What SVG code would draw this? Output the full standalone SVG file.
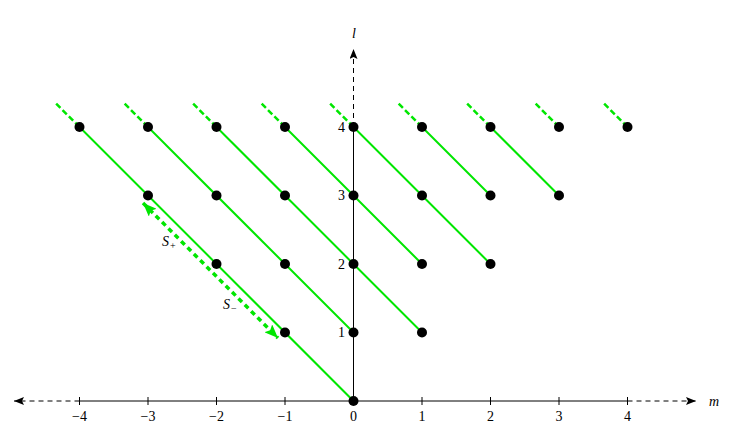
<svg xmlns="http://www.w3.org/2000/svg" width="739" height="437" viewBox="0 0 739 437">
<defs>
<style>
.ax{stroke:#000;stroke-width:1;fill:none}
.axd{stroke:#000;stroke-width:1;fill:none;stroke-dasharray:5,4}
.g{stroke:#00e600;stroke-width:2;fill:none}
.gd{stroke:#00e600;stroke-width:2.5;fill:none;stroke-dasharray:6,3}
.sd{stroke:#00e600;stroke-width:3.5;fill:none;stroke-dasharray:5,4}
.t{font-family:"Liberation Serif","Times New Roman",serif;font-size:14px;fill:#000}
.ti{font-family:"Liberation Serif","Times New Roman",serif;font-size:14px;font-style:italic;fill:#000}
.sub{font-family:"Liberation Serif","Times New Roman",serif;font-size:10px;fill:#000}
.d{fill:#000}
</style>
<marker id="ah" viewBox="0 0 10 8" refX="10" refY="4" markerWidth="14" markerHeight="8" markerUnits="userSpaceOnUse" orient="auto">
<path d="M0,0 L10,4 L0,8 L2,4 Z" fill="#000"/>
</marker>
<marker id="gh" viewBox="0 0 10 8" refX="10" refY="4" markerWidth="14" markerHeight="11" markerUnits="userSpaceOnUse" orient="auto-start-reverse">
<path d="M0,0 L10,4 L0,8 L2,4 Z" fill="#00e600"/>
</marker>
</defs>
<g id="axes">
<line class="ax" x1="79.5" y1="401" x2="627.5" y2="401"/>
<line class="axd" x1="79.5" y1="401" x2="14" y2="401" marker-end="url(#ah)"/>
<line class="axd" x1="627.5" y1="401" x2="696" y2="401" marker-end="url(#ah)"/>
<line class="ax" x1="353.5" y1="401" x2="353.5" y2="127"/>
<line class="axd" x1="353.5" y1="127" x2="353.5" y2="49" marker-end="url(#ah)"/>
<path class="ax" d="M79.5,397v8M148,397v8M216.5,397v8M285,397v8M422,397v8M490.5,397v8M559,397v8M627.5,397v8"/>
<text class="ti" x="709" y="406">m</text>
<text class="ti" x="352" y="38">l</text>
<g text-anchor="middle">
<text class="t" x="79.5" y="421">−4</text>
<text class="t" x="148" y="421">−3</text>
<text class="t" x="216.5" y="421">−2</text>
<text class="t" x="285" y="421">−1</text>
<text class="t" x="353.5" y="421">0</text>
<text class="t" x="422" y="421">1</text>
<text class="t" x="490.5" y="421">2</text>
<text class="t" x="559" y="421">3</text>
<text class="t" x="627.5" y="421">4</text>
</g>
<g text-anchor="end">
<text class="t" x="345" y="337">1</text>
<text class="t" x="345" y="269">2</text>
<text class="t" x="345" y="200">3</text>
<text class="t" x="345" y="132">4</text>
</g>
</g>
<g id="connectors">
<line class="g" x1="79.5" y1="127" x2="353.5" y2="401"/>
<line class="g" x1="148" y1="127" x2="353.5" y2="332.5"/>
<line class="g" x1="216.5" y1="127" x2="422" y2="332.5"/>
<line class="g" x1="285" y1="127" x2="422" y2="264"/>
<line class="g" x1="353.5" y1="127" x2="490.5" y2="264"/>
<line class="g" x1="422" y1="127" x2="490.5" y2="195.5"/>
<line class="g" x1="490.5" y1="127" x2="559" y2="195.5"/>
<line class="gd" x1="79.5" y1="127" x2="55.5" y2="103"/>
<line class="gd" x1="148" y1="127" x2="124" y2="103"/>
<line class="gd" x1="216.5" y1="127" x2="192.5" y2="103"/>
<line class="gd" x1="285" y1="127" x2="261" y2="103"/>
<line class="gd" x1="353.5" y1="127" x2="329.5" y2="103"/>
<line class="gd" x1="422" y1="127" x2="398" y2="103"/>
<line class="gd" x1="490.5" y1="127" x2="466.5" y2="103"/>
<line class="gd" x1="559" y1="127" x2="535" y2="103"/>
<line class="gd" x1="627.5" y1="127" x2="603.5" y2="103"/>
<line class="sd" x1="143" y1="203" x2="278" y2="338" marker-start="url(#gh)" marker-end="url(#gh)"/>
<text class="ti" x="162" y="246">S</text><text class="sub" x="170" y="249">+</text>
<text class="ti" x="223" y="309">S</text><text class="sub" x="231" y="312">−</text>
</g>
<g id="nodes">
<circle class="d" cx="353.5" cy="401" r="5"/>
<circle class="d" cx="285" cy="332.5" r="5"/>
<circle class="d" cx="353.5" cy="332.5" r="5"/>
<circle class="d" cx="422" cy="332.5" r="5"/>
<circle class="d" cx="216.5" cy="264" r="5"/>
<circle class="d" cx="285" cy="264" r="5"/>
<circle class="d" cx="353.5" cy="264" r="5"/>
<circle class="d" cx="422" cy="264" r="5"/>
<circle class="d" cx="490.5" cy="264" r="5"/>
<circle class="d" cx="148" cy="195.5" r="5"/>
<circle class="d" cx="216.5" cy="195.5" r="5"/>
<circle class="d" cx="285" cy="195.5" r="5"/>
<circle class="d" cx="353.5" cy="195.5" r="5"/>
<circle class="d" cx="422" cy="195.5" r="5"/>
<circle class="d" cx="490.5" cy="195.5" r="5"/>
<circle class="d" cx="559" cy="195.5" r="5"/>
<circle class="d" cx="79.5" cy="127" r="5"/>
<circle class="d" cx="148" cy="127" r="5"/>
<circle class="d" cx="216.5" cy="127" r="5"/>
<circle class="d" cx="285" cy="127" r="5"/>
<circle class="d" cx="353.5" cy="127" r="5"/>
<circle class="d" cx="422" cy="127" r="5"/>
<circle class="d" cx="490.5" cy="127" r="5"/>
<circle class="d" cx="559" cy="127" r="5"/>
<circle class="d" cx="627.5" cy="127" r="5"/>
</g>
</svg>
